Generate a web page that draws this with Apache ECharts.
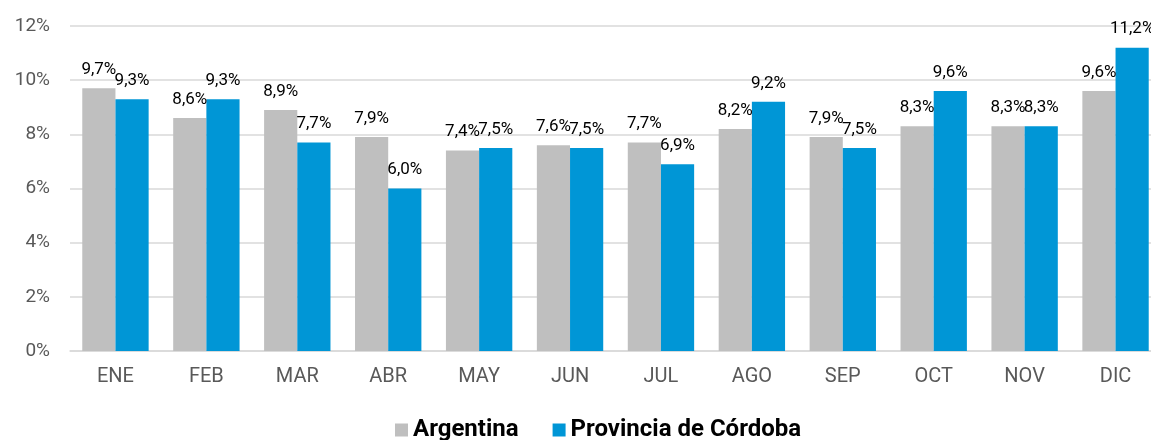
<!DOCTYPE html>
<html>
<head>
<meta charset="utf-8">
<script src="https://cdn.jsdelivr.net/npm/echarts@6/dist/echarts.min.js"></script>
<style>
  html, body { margin: 0; padding: 0; background: #fff; }
  #chart { width: 1151px; height: 440px; }
</style>
</head>
<body>
<div id="chart"></div>
<script>
const months = ['ENE', 'FEB', 'MAR', 'ABR', 'MAY', 'JUN', 'JUL', 'AGO', 'SEP', 'OCT', 'NOV', 'DIC']
const argentina = [9.7, 8.6, 8.9, 7.9, 7.4, 7.6, 7.7, 8.2, 7.9, 8.3, 8.3, 9.6]
const cordoba = [9.3, 9.3, 7.7, 6.0, 7.5, 7.5, 6.9, 9.2, 7.5, 9.6, 8.3, 11.2]

const fmt = (v) => v.toFixed(1).replace('.', ',') + '%'

const labelStyle = {
  show: true,
  position: 'top',
  distance: 10,
  color: '#000',
  fontSize: 17,
  fontFamily: 'Roboto',
  formatter: (p) => fmt(p.value),
}

const chart = echarts.init(document.getElementById('chart'))

chart.setOption({
  animation: false,
  textStyle: { fontFamily: 'Roboto' },
  grid: {
    left: 70,
    width: 1091,
    top: 26,
    bottom: 89,
    containLabel: false,
    outerBoundsMode: 'none',
  },
  legend: {
    top: 418,
    left: 395,
    padding: 0,
    itemWidth: 13,
    itemHeight: 13,
    itemGap: 34,
    icon: 'rect',
    textStyle: { fontSize: 24, fontWeight: 'bold', color: '#000', fontFamily: 'Roboto' },
    data: ['Argentina', 'Provincia de Córdoba'],
  },
  xAxis: {
    type: 'category',
    data: months,
    axisTick: { show: false },
    axisLine: { lineStyle: { color: '#d9d9d9', width: 1.5 } },
    axisLabel: { color: '#595959', fontSize: 20, margin: 16 },
  },
  yAxis: {
    type: 'value',
    min: 0,
    max: 12,
    interval: 2,
    axisLine: { show: false },
    axisTick: { show: false },
    splitLine: { lineStyle: { color: '#d9d9d9', width: 1.5 } },
    axisLabel: { color: '#595959', fontSize: 19, margin: 20, formatter: (v) => v + '%' },
  },
  series: [
    {
      name: 'Argentina',
      type: 'bar',
      data: argentina,
      barGap: '0%',
      barCategoryGap: '27%',
      itemStyle: { color: '#bfbfbf' },
      label: labelStyle,
    },
    {
      name: 'Provincia de Córdoba',
      type: 'bar',
      data: cordoba,
      barGap: '0%',
      barCategoryGap: '27%',
      itemStyle: { color: '#0096d6' },
      label: labelStyle,
    },
  ],
})
</script>
</body>
</html>
